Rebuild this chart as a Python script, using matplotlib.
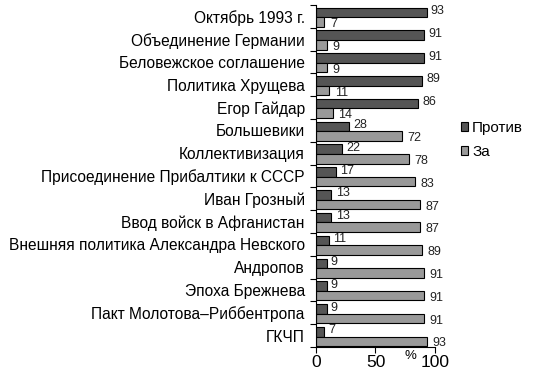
import matplotlib.pyplot as plt
import numpy as np

plt.rcParams['font.family'] = ['Liberation Sans', 'DejaVu Sans']

# Data
categories = ['Октябрь 1993 г.', 'Объединение Германии', 'Беловежское соглашение',
              'Политика Хрущева', 'Егор Гайдар', 'Большевики', 'Коллективизация',
              'Присоединение Прибалтики к СССР', 'Иван Грозный', 'Ввод войск в Афганистан',
              'Внешняя политика Александра Невского', 'Андропов', 'Эпоха Брежнева',
              'Пакт Молотова–Риббентропа', 'ГКЧП']
against = [93, 91, 91, 89, 86, 28, 22, 17, 13, 13, 11, 9, 9, 9, 7]
support = [7, 9, 9, 11, 14, 72, 78, 83, 87, 87, 89, 91, 91, 91, 93]

fig = plt.figure(figsize=(5.53, 3.78), dpi=100)
ax = fig.add_axes([0.5714, 0.082, 0.2152, 0.905])

y = np.arange(len(categories))
h = 0.42
off = 0.04
bars_a = ax.barh(y - h / 2 + off, against, height=h, color='#555555',
                 edgecolor='black', linewidth=0.8, label='Против')
bars_s = ax.barh(y + h / 2 + off, support, height=h, color='#999999',
                 edgecolor='black', linewidth=0.8, label='За')

# value labels at bar ends
for bar, v in zip(bars_a, against):
    ax.annotate(str(v), (bar.get_width(), bar.get_y() + bar.get_height() / 2),
                xytext=(3, 1), textcoords='offset points', va='center', ha='left',
                fontsize=9, color='#222222', annotation_clip=False)
for bar, v in zip(bars_s, support):
    ax.annotate(str(v), (bar.get_width(), bar.get_y() + bar.get_height() / 2),
                xytext=(4, -1.5), textcoords='offset points', va='center', ha='left',
                fontsize=9, color='#222222', annotation_clip=False)

ax.set_xlim(0, 100)
ax.set_ylim(len(categories) - 0.5, -0.5)

# category labels at centres, tick marks between categories
ax.set_yticks(y)
ax.set_yticklabels(categories, fontsize=11.2)
ax.tick_params(axis='y', which='major', length=0, pad=8)
ax.set_yticks(np.arange(len(categories) + 1) - 0.5, minor=True)
ax.tick_params(axis='y', which='minor', length=4, width=0.8, direction='out')

ax.set_xticks([0, 50, 100])
ax.tick_params(axis='x', labelsize=12.5, length=4, width=0.8, pad=2)

ax.spines['top'].set_visible(False)
ax.spines['right'].set_visible(False)
ax.spines['left'].set_linewidth(0.8)
ax.spines['bottom'].set_linewidth(0.8)

fig.text(410 / 553, 1 - 356 / 378, '%', fontsize=9.5, ha='center', va='center')

fig.legend(handles=[bars_a, bars_s], labels=['Против', 'За'],
           loc='center left', bbox_to_anchor=(453 / 553, 1 - 140 / 378),
           frameon=False, fontsize=11, handlelength=0.45, handleheight=0.45,
           handletextpad=0.3, labelspacing=0.65, borderpad=0)

fig.savefig('out.png', dpi=100)
